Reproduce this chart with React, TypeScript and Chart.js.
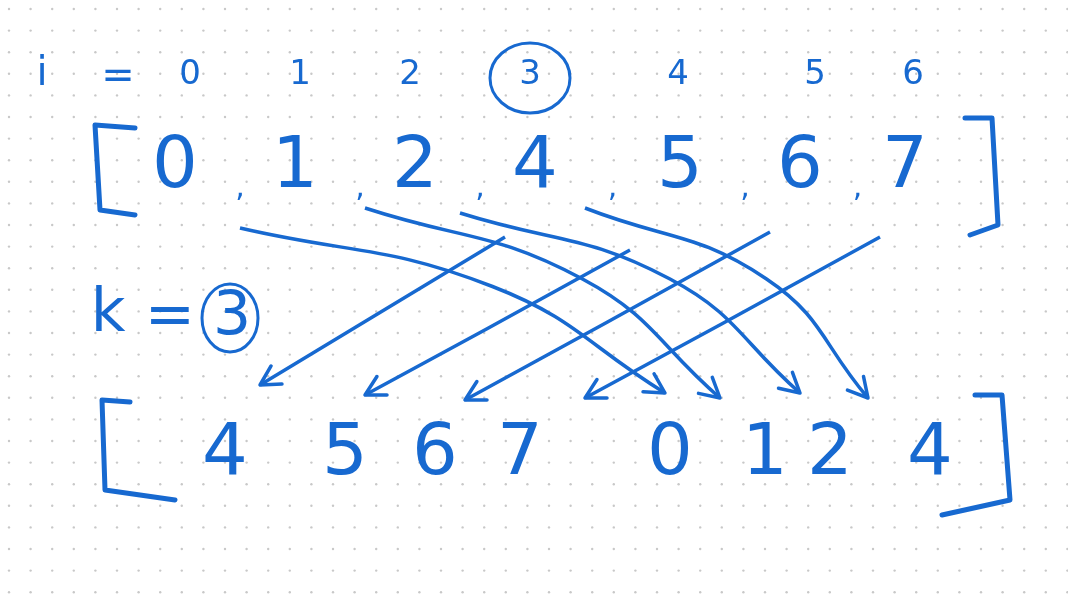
import { useEffect, useRef } from 'react';
import { Chart, registerables } from 'chart.js';

Chart.register(...registerables);

const INK = '#1769d0';

// index labels over the array
const indexLabels = ['0', '1', '2', '3', '4', '5', '6'];
const indexX = [190, 300, 410, 530, 678, 815, 913];

// original array
const topValues = ['0', '1', '2', '4', '5', '6', '7'];
const topX = [175, 295, 415, 535, 680, 800, 905];

// rotated array
const bottomValues = ['4', '5', '6', '7', '0', '1', '2', '4'];
const bottomX = [225, 345, 435, 520, 670, 765, 830, 930];

// arrows: [startX, startY, endX, endY, bend]
const arrowStart = [[240, 228], [365, 208], [460, 213], [585, 208], [505, 237], [630, 250], [770, 232], [880, 237]];
const arrowEnd = [[665, 393], [720, 398], [800, 393], [868, 398], [260, 385], [365, 395], [465, 400], [585, 398]];
const arrowBend = [40, 40, 40, 40, -10, -10, -10, -10];

const arrowSets = arrowStart.map((s, i) => {
  const e = arrowEnd[i];
  const mx = (s[0] + e[0]) / 2 + arrowBend[i];
  const my = (s[1] + e[1]) / 2 - arrowBend[i] * 0.6;
  return {
    type: 'line' as const,
    data: [{ x: s[0], y: s[1] }, { x: mx, y: my }, { x: e[0], y: e[1] }],
    borderColor: INK,
    borderWidth: 3.5,
    pointRadius: 0,
    tension: 0.45,
    fill: false,
  };
});

const diagram = {
  id: 'diagram',
  beforeDraw(chart: Chart) {
    const { ctx, width, height } = chart;
    ctx.save();
    ctx.fillStyle = '#ffffff';
    ctx.fillRect(0, 0, width, height);
    ctx.fillStyle = '#c8c8c8';
    for (let x = 9; x < width; x += 21.6) {
      for (let y = 9; y < height; y += 21.6) {
        ctx.beginPath();
        ctx.arc(x, y, 1.2, 0, Math.PI * 2);
        ctx.fill();
      }
    }
    ctx.restore();
  },
  afterDatasetsDraw(chart: Chart) {
    const { ctx } = chart;
    const sx = chart.scales.x;
    const sy = chart.scales.y;
    const px = (v: number) => sx.getPixelForValue(v);
    const py = (v: number) => sy.getPixelForValue(v);
    ctx.save();
    ctx.fillStyle = INK;
    ctx.strokeStyle = INK;
    ctx.lineCap = 'round';
    ctx.lineJoin = 'round';
    ctx.textAlign = 'center';
    ctx.textBaseline = 'middle';

    ctx.font = '40px "DejaVu Sans"';
    ctx.fillText('i', px(42), py(75));
    ctx.fillText('=', px(118), py(78));
    indexLabels.forEach((t, i) => {
      ctx.font = '34px "DejaVu Sans"';
      ctx.fillText(t, px(indexX[i]), py(75));
    });
    ctx.lineWidth = 3;
    ctx.beginPath();
    ctx.ellipse(px(530), py(78), 40, 35, 0, 0, Math.PI * 2);
    ctx.stroke();

    ctx.font = '72px "DejaVu Sans"';
    topValues.forEach((t, i) => ctx.fillText(t, px(topX[i]), py(168)));
    ctx.font = '30px "DejaVu Sans"';
    topX.slice(0, -1).forEach((x, i) => ctx.fillText(',', px((x + topX[i + 1]) / 2 + 5), py(188)));

    ctx.font = '72px "DejaVu Sans"';
    bottomValues.forEach((t, i) => ctx.fillText(t, px(bottomX[i]), py(455)));

    ctx.font = '60px "DejaVu Sans"';
    ctx.fillText('k', px(108), py(315));
    ctx.fillText('=', px(170), py(318));
    ctx.fillText('3', px(232), py(318));
    ctx.beginPath();
    ctx.ellipse(px(230), py(318), 28, 34, 0, 0, Math.PI * 2);
    ctx.stroke();

    // brackets
    ctx.lineWidth = 5;
    const bracket = (pts: number[][]) => {
      ctx.beginPath();
      pts.forEach((p, i) => (i ? ctx.lineTo(px(p[0]), py(p[1])) : ctx.moveTo(px(p[0]), py(p[1]))));
      ctx.stroke();
    };
    bracket([[135, 128], [95, 125], [100, 210], [135, 215]]);
    bracket([[965, 118], [992, 118], [998, 225], [970, 235]]);
    bracket([[130, 402], [102, 400], [105, 490], [175, 500]]);
    bracket([[975, 395], [1002, 395], [1010, 500], [942, 515]]);

    // arrowheads
    ctx.lineWidth = 3.5;
    chart.data.datasets.forEach((ds: any) => {
      const d = ds.data;
      const e = d[d.length - 1];
      const m = d[d.length - 2];
      const ang = Math.atan2(py(e.y) - py(m.y), px(e.x) - px(m.x));
      const L = 22;
      ctx.beginPath();
      ctx.moveTo(px(e.x) - L * Math.cos(ang - 0.5), py(e.y) - L * Math.sin(ang - 0.5));
      ctx.lineTo(px(e.x), py(e.y));
      ctx.lineTo(px(e.x) - L * Math.cos(ang + 0.5), py(e.y) - L * Math.sin(ang + 0.5));
      ctx.stroke();
    });
    ctx.restore();
  },
};

export default function App() {
  const chartRef = useRef<HTMLCanvasElement>(null);
  const chartInstance = useRef<Chart | null>(null);

  useEffect(() => {
    document.body.style.margin = '0';
    if (!chartRef.current) return;
    if (chartInstance.current) chartInstance.current.destroy();
    const ctx = chartRef.current.getContext('2d');
    if (!ctx) return;

    chartInstance.current = new Chart(ctx, {
      type: 'line',
      data: { datasets: arrowSets },
      options: {
        responsive: true,
        maintainAspectRatio: false,
        animation: false,
        layout: { padding: 0 },
        plugins: { legend: { display: false }, tooltip: { enabled: false } },
        scales: {
          x: { type: 'linear', min: 0, max: 1068, display: false },
          y: { type: 'linear', min: 0, max: 600, reverse: true, display: false },
        },
      },
      plugins: [diagram],
    });

    return () => {
      if (chartInstance.current) chartInstance.current.destroy();
    };
  }, []);

  return (
    <div style={{ width: 1068, height: 600 }}>
      <canvas ref={chartRef} />
    </div>
  );
}
